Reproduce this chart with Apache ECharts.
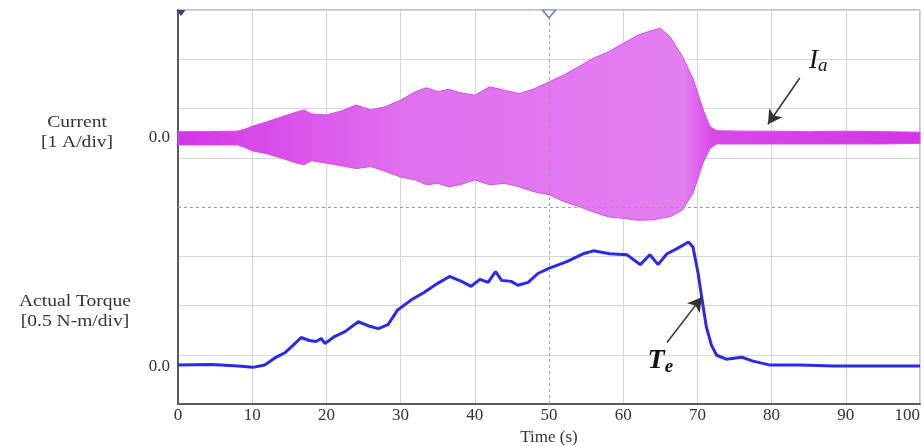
<!DOCTYPE html>
<html>
<head>
<meta charset="utf-8">
<script src="https://cdn.jsdelivr.net/npm/echarts@6/dist/echarts.min.js"></script>
<style>html,body{margin:0;padding:0;background:#fff}#c{width:924px;height:446px}</style>
</head>
<body>
<div id="c"></div>
<script>
// Current envelope (A)
var currentTime = [0,4,8,9,10,12,14,16,17,18,20,22,24,26,28,30,32,33.5,35,36.5,38,40,42,44,46,48,50,52,54,56,58,60,62,64,65,66.3,68,69.4,70.8,71.7,72.6,76,80,85,90,95,100];
var currentUpper = [0.12,0.12,0.13,0.17,0.23,0.32,0.42,0.52,0.56,0.48,0.46,0.54,0.66,0.56,0.63,0.76,0.93,1.01,0.93,0.98,0.91,0.86,1.03,0.96,0.89,0.99,1.13,1.27,1.44,1.61,1.74,1.91,2.08,2.18,2.22,2.05,1.64,1.20,0.56,0.22,0.14,0.13,0.13,0.12,0.13,0.12,0.11];
var currentLower = [-0.15,-0.15,-0.15,-0.2,-0.27,-0.33,-0.42,-0.52,-0.55,-0.47,-0.52,-0.57,-0.63,-0.59,-0.69,-0.80,-0.86,-0.96,-0.93,-1.0,-0.96,-0.86,-0.96,-0.93,-1.0,-1.10,-1.16,-1.30,-1.40,-1.51,-1.61,-1.64,-1.68,-1.67,-1.64,-1.61,-1.47,-1.13,-0.50,-0.22,-0.13,-0.13,-0.13,-0.13,-0.13,-0.13,-0.12];
// Actual torque (N-m)
var torqueTime = [0,4.5,8.1,10.1,11.7,13,14.4,15.5,16.6,17.7,18.6,19.3,19.8,21.1,22.5,24.3,25.6,27,28.3,29.6,31.4,33.2,35,36.6,38.2,39.5,40.7,41.8,42.8,43.6,44.9,45.8,47.2,48.5,49.9,52.4,54.6,56,58.2,60.5,62.3,63.6,64.7,65.9,67.2,68.8,69.4,70.1,70.6,71.2,71.9,72.6,73.9,76,77.5,79.8,83.8,88.3,95.1,100];
var torqueValues = [0.01,0.017,0,-0.013,0.01,0.08,0.135,0.21,0.29,0.26,0.25,0.28,0.23,0.30,0.35,0.45,0.41,0.38,0.42,0.57,0.67,0.75,0.84,0.91,0.86,0.81,0.88,0.85,0.96,0.87,0.86,0.82,0.85,0.94,0.99,1.06,1.14,1.17,1.14,1.13,1.03,1.13,1.03,1.14,1.19,1.26,1.21,0.94,0.69,0.40,0.21,0.11,0.07,0.09,0.05,0.01,0.01,0,0,0];
var xTickLabels = ['0','10','20','30','40','50','60','70','80','90','100'];
var channelNames = ['Current\n[1 A/div]', 'Actual Torque\n[0.5 N-m/div]'];
var annotations = { current: 'I', currentSub: 'a', torque: 'T', torqueSub: 'e' };

var SERIF = '"Liberation Serif","Times New Roman",serif';
var chart = echarts.init(document.getElementById('c'), null, {renderer: 'canvas'});

var torqueData = torqueTime.map(function (t, i) { return [t, torqueValues[i]]; });

var gridCol = '#d6d6d6';
var xSplitColors = [];
for (var i = 0; i < 11; i++) xSplitColors.push(i === 5 ? 'rgba(0,0,0,0)' : gridCol);
var ySplitColors = [];
for (var j = 0; j < 9; j++) ySplitColors.push(j === 4 ? 'rgba(0,0,0,0)' : gridCol);

function bandGradient() {
  return new echarts.graphic.LinearGradient(0, 0, 1, 0, [
    {offset: 0, color: '#d435e6'},
    {offset: 0.12, color: '#d94ce9'},
    {offset: 0.3, color: '#e06fee'},
    {offset: 0.68, color: '#e47ff1'},
    {offset: 0.72, color: '#d848e9'},
    {offset: 1, color: '#d435e6'}
  ]);
}

function renderBand(params, api) {
  if (params.dataIndex !== 0) return null;
  var pts = [];
  for (var k = 0; k < currentTime.length; k++) pts.push(api.coord([currentTime[k], currentUpper[k]]));
  for (var m = currentTime.length - 1; m >= 0; m--) pts.push(api.coord([currentTime[m], currentLower[m]]));
  return {
    type: 'polygon',
    shape: {points: pts},
    style: {fill: bandGradient(), stroke: '#d64ae8', lineWidth: 1}
  };
}

var option = {
  animation: false,
  backgroundColor: '#fff',
  grid: {left: 178, right: 4, top: 10, bottom: 42, outerBoundsMode: 'none', containLabel: false,
         show: true, borderColor: '#8a8a8a', borderWidth: 1, backgroundColor: 'rgba(0,0,0,0)'},
  xAxis: {
    type: 'value', min: 0, max: 100, interval: 10,
    name: 'Time (s)', nameLocation: 'middle', nameGap: 23,
    nameTextStyle: {fontFamily: SERIF, fontSize: 17, color: '#333'},
    axisLine: {show: true, onZero: false, lineStyle: {color: '#5a5a5a', width: 2}},
    axisTick: {show: false},
    axisLabel: {fontFamily: SERIF, fontSize: 17, color: '#333', margin: 3, alignMaxLabel: 'right',
      formatter: function (v) { return xTickLabels[Math.round(v / 10)]; }},
    splitLine: {show: true, lineStyle: {color: xSplitColors, width: 1}}
  },
  yAxis: [
    { // current (A), 1 A/div
      type: 'value', min: -5.41, max: 2.59, position: 'left',
      axisLine: {show: true, onZero: false, lineStyle: {color: '#5a5a5a', width: 2}},
      axisTick: {show: false},
      axisLabel: {customValues: [0], formatter: function () { return '0.0'; }, fontFamily: SERIF, fontSize: 17, color: '#333', margin: 8},
      splitLine: {show: false}
    },
    { // torque (N-m), 0.5 N-m/div
      type: 'value', min: -0.385, max: 3.615, position: 'left',
      axisLine: {show: false, onZero: false}, axisTick: {show: false},
      axisLabel: {customValues: [0], formatter: function () { return '0.0'; }, fontFamily: SERIF, fontSize: 17, color: '#333', margin: 8},
      splitLine: {show: false}
    },
    { // division grid
      type: 'value', min: 0, max: 8, interval: 1, position: 'right',
      axisLine: {show: false, onZero: false}, axisTick: {show: false}, axisLabel: {show: false},
      splitLine: {show: true, lineStyle: {color: ySplitColors, width: 1}}
    }
  ],
  series: [
    {
      type: 'line', yAxisIndex: 2, data: [], silent: true,
      markLine: {
        silent: true, symbol: 'none', label: {show: false},
        lineStyle: {color: '#9a9a9a', type: [3, 3], width: 1},
        data: [{xAxis: 50}, {yAxis: 4}]
      },
      markPoint: {
        silent: true, label: {show: false},
        data: [
          {coord: [50, 8], symbol: 'triangle', symbolRotate: 180, symbolSize: [13, 8], symbolOffset: [0, 4],
           itemStyle: {color: '#ffffff', borderColor: '#6f83ad', borderWidth: 1.5}},
          {coord: [0, 8], symbol: 'triangle', symbolRotate: 180, symbolSize: [9, 6], symbolOffset: [3, 3],
           itemStyle: {color: '#2d4378'}}
        ]
      }
    },
    {
      name: 'Ia', type: 'custom', yAxisIndex: 0, data: [[0, 0]],
      renderItem: renderBand, silent: true,
      markLine: {
        silent: true, symbol: ['none', 'arrow'], symbolSize: [12, 14], label: {show: false},
        lineStyle: {color: '#333', width: 1.5, type: 'solid'},
        data: [[{coord: [83.8, 1.21]}, {coord: [79.5, 0.27]}]]
      },
      markPoint: {
        silent: true, symbol: 'circle', symbolSize: 1, itemStyle: {color: 'rgba(0,0,0,0)'},
        data: [{coord: [86.3, 1.55], label: {show: true, position: 'inside',
          formatter: '{m|' + annotations.current + '}{s|' + annotations.currentSub + '}',
          rich: {m: {fontFamily: SERIF, fontStyle: 'italic', fontSize: 27, color: '#111'},
                 s: {fontFamily: SERIF, fontStyle: 'italic', fontSize: 19, color: '#111', verticalAlign: 'bottom', padding: [10, 0, 0, 0]}}}}]
      }
    },
    {
      name: 'Te', type: 'line', yAxisIndex: 1, data: torqueData,
      showSymbol: false, symbol: 'none',
      lineStyle: {color: '#2a2ae8', width: 3},
      markLine: {
        silent: true, symbol: ['none', 'arrow'], symbolSize: [12, 14], label: {show: false},
        lineStyle: {color: '#333', width: 1.5, type: 'solid'},
        data: [[{coord: [65.9, 0.24]}, {coord: [70.6, 0.70]}]]
      },
      markPoint: {
        silent: true, symbol: 'circle', symbolSize: 1, itemStyle: {color: 'rgba(0,0,0,0)'},
        data: [{coord: [65.0, 0.05], label: {show: true, position: 'inside',
          formatter: '{m|' + annotations.torque + '}{s|' + annotations.torqueSub + '}',
          rich: {m: {fontFamily: SERIF, fontStyle: 'italic', fontWeight: 'bold', fontSize: 28, color: '#111'},
                 s: {fontFamily: SERIF, fontStyle: 'italic', fontWeight: 'bold', fontSize: 19, color: '#111', verticalAlign: 'bottom', padding: [12, 0, 0, 0]}}}}]
      }
    }
  ],
  graphic: [
    {type: 'text', x: 77, y: 113, scaleX: 1.15, style: {text: channelNames[0], fontFamily: SERIF, fontSize: 17, lineHeight: 20, fill: '#333', align: 'center'}},
    {type: 'text', x: 75, y: 292, scaleX: 1.15, style: {text: channelNames[1], fontFamily: SERIF, fontSize: 17, lineHeight: 20, fill: '#333', align: 'center'}}
  ]
};
chart.setOption(option);
</script>
</body>
</html>
